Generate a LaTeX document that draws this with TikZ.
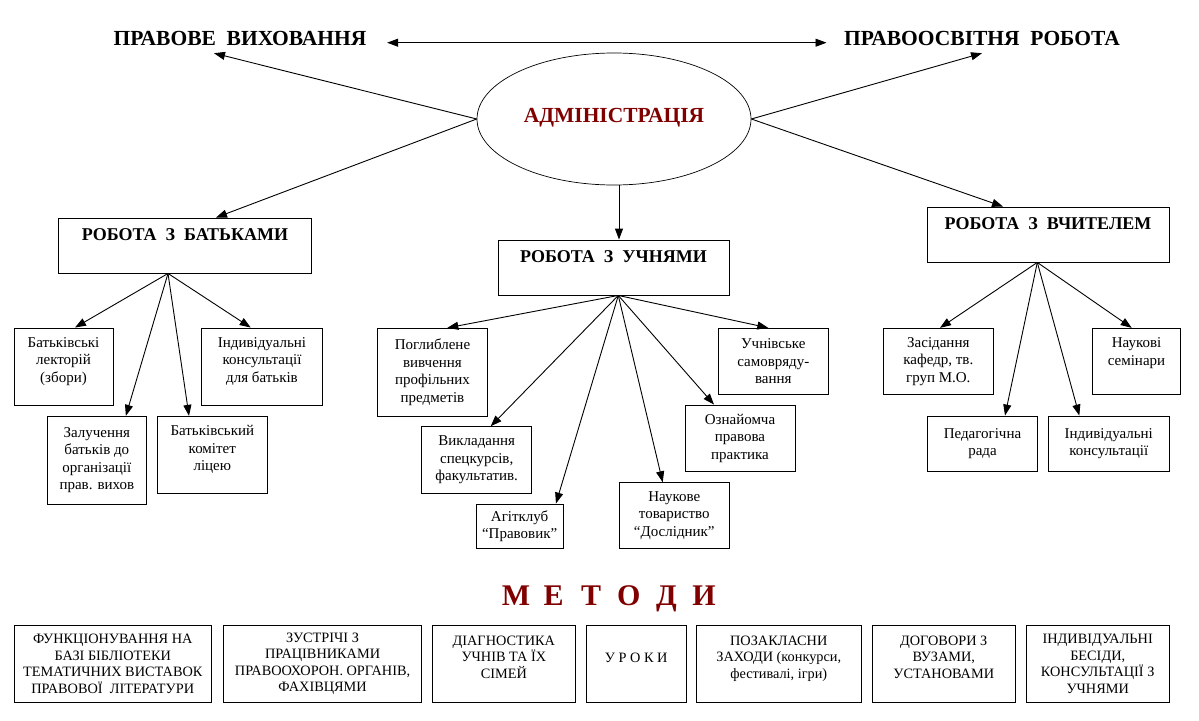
\documentclass[tikz,border=0pt]{standalone}
\usepackage{fontspec}
\setmainfont{Liberation Serif}
\usetikzlibrary{arrows.meta,shapes.geometric}
\definecolor{dred}{RGB}{128,0,0}
\tikzset{
  box/.style={draw, line width=0.9pt, inner sep=0pt, align=center, font=\fontsize{15}{17.5}\selectfont},
  mbox/.style={draw, line width=0.9pt, inner sep=0pt, align=center, minimum height=77.3pt, font=\fontsize{14.3}{16.5}\selectfont},
  headbox/.style={draw, line width=0.9pt, inner sep=0pt, minimum height=55pt, font=\bfseries\fontsize{18}{21}\selectfont, text height=13pt, text depth=24pt},
  titletext/.style={inner sep=0pt, anchor=base, font=\bfseries\fontsize{21.5}{25}\selectfont, text height=15.5pt, text depth=0pt},
  arr/.style={-{Triangle[length=11pt,width=8pt]}, line width=0.9pt},
  darr/.style={{Triangle[length=11pt,width=8pt]}-{Triangle[length=11pt,width=8pt]}, line width=0.9pt},
}
\begin{document}
\begin{tikzpicture}[x=1pt,y=-1pt]
\fill[white] (0,0) rectangle (1199,720);
\useasboundingbox (0,0) rectangle (1199,720);

% top titles
\node[titletext] (pv) at (240,45.7) {ПРАВОВЕ\ \ ВИХОВАННЯ};
\node[titletext] (po) at (982,45.7) {ПРАВООСВІТНЯ\ \ РОБОТА};

% ellipse
\node[draw, ellipse, line width=0.7pt, minimum width=274pt, minimum height=132pt, inner sep=0pt,
      text=dred, font=\bfseries\fontsize{21.5}{25}\selectfont, text height=15.5pt, text depth=8pt] (el) at (614,119) {АДМІНІСТРАЦІЯ};

% heading boxes
\node[headbox, minimum width=253pt] (bat) at (185,245.5) {РОБОТА\ \ З\ \ БАТЬКАМИ};
\node[headbox, minimum width=231pt] (uch) at (613.5,267.5) {РОБОТА\ \ З\ \ УЧНЯМИ};
\node[headbox, minimum width=242pt] (vch) at (1048,234.5) {РОБОТА\ \ З\ \ ВЧИТЕЛЕМ};

% top arrows
\draw[darr] ([xshift=20.5pt,yshift=3pt]pv.base east) -- ([xshift=-17.5pt,yshift=3pt]po.base west);
\draw[arr] (el.west) -- ([xshift=-26pt,yshift=-7.3pt]pv.south);
\draw[arr] (el.east) -- ([yshift=-7.3pt]po.south);
\draw[arr] (el.west) -- ([xshift=31pt]bat.north);
\draw[arr] (el.east) -- ([xshift=-45pt]vch.north);
\draw[arr] ([xshift=5pt]el.south) -- ([xshift=5.5pt]uch.north);

% parents group
\node[box, minimum width=99pt, minimum height=77pt] (b1) at (63.5,366.5) {Батьківські\\лекторій\\(збори)\\[-4.5pt]\mbox{}};
\node[box, minimum width=120.6pt, minimum height=77pt] (b2) at (262,366.5) {Індивідуальні\\консультації\\для батьків\\[-4.5pt]\mbox{}};
\node[box, minimum width=98.3pt, minimum height=87.7pt] (b3) at (96.85,460.15) {Залучення\\батьків до\\організації\\прав. вихов};
\node[box, minimum width=110pt, minimum height=77pt] (b4) at (212.3,454.8) {Батьківський\\комітет\\ліцею\\[-4.5pt]\mbox{}};
\coordinate (batf) at ([xshift=-17pt]bat.south);
\draw[arr] (batf) -- ([xshift=11.5pt]b1.north);
\draw[arr] (batf) -- ([xshift=-11.3pt]b2.north);
\draw[arr] (batf) -- ([xshift=29pt]b3.north);
\draw[arr] (batf) -- ([xshift=-23.3pt]b4.north);

% pupils group
\node[box, minimum width=110.4pt, minimum height=87.7pt] (m1) at (432.5,372.15) {Поглиблене\\вивчення\\профільних\\предметів};
\node[box, minimum width=110pt, minimum height=66.6pt] (m2) at (476.7,460) {Викладання\\спецкурсів,\\факультатив.};
\node[box, minimum width=87.3pt, minimum height=44.3pt] (m3) at (519.65,526.15) {Агітклуб\\“Правовик”};
\node[box, minimum width=110pt, minimum height=65.6pt] (m4) at (674.3,515.5) {Наукове\\товариство\\“Дослідник”};
\node[box, minimum width=110pt, minimum height=66.7pt] (m5) at (740,438.35) {Ознайомча\\правова\\практика};
\node[box, minimum width=110pt, minimum height=65.7pt] (m6) at (773.3,361.15) {Учнівське\\самовряду-\\вання};
\coordinate (uchf) at ([xshift=4.8pt]uch.south);
\draw[arr] (uchf) -- ([xshift=14.8pt]m1.north);
\draw[arr] (uchf) -- ([xshift=14pt]m2.north);
\draw[arr] (uchf) -- ([xshift=36.3pt]m3.north);
\draw[arr] (uchf) -- ([xshift=-11.6pt]m4.north);
\draw[arr] (uchf) -- ([xshift=-26pt]m5.north);
\draw[arr] (uchf) -- ([xshift=-5pt]m6.north);

% teacher group
\node[box, minimum width=110pt, minimum height=65.7pt] (r1) at (938.3,361.15) {Засідання\\кафедр, тв.\\груп М.О.};
\node[box, minimum width=88.4pt, minimum height=65.7pt] (r2) at (1136.5,361.15) {Наукові\\семінари\\[2pt]\mbox{}};
\node[box, minimum width=109.6pt, minimum height=55pt] (r3) at (982.5,443.5) {Педагогічна\\рада};
\node[box, minimum width=121pt, minimum height=55pt] (r4) at (1108.8,443.5) {Індивідуальні\\консультації};
\coordinate (vchf) at ([xshift=-10.7pt]vch.south);
\draw[arr] (vchf) -- ([xshift=1.7pt]r1.north);
\draw[arr] (vchf) -- ([xshift=-4.8pt]r2.north);
\draw[arr] (vchf) -- ([xshift=22.5pt]r3.north);
\draw[arr] (vchf) -- ([xshift=-29.5pt]r4.north);

% methods
\node[inner sep=0pt, anchor=base, text=dred, font=\bfseries\fontsize{30}{36}\selectfont] (met) at (610,605)
  {\makebox[37.6pt]{М}\makebox[37.6pt]{Е}\makebox[37.6pt]{Т}\makebox[37.6pt]{О}\makebox[37.6pt]{Д}\makebox[37.6pt]{И}};
\node[mbox, minimum width=196.5pt] (k1) at (112.75,663.65) {ФУНКЦІОНУВАННЯ НА\\БАЗІ БІБЛІОТЕКИ\\ТЕМАТИЧНИХ ВИСТАВОК\\ПРАВОВОЇ\ \ ЛІТЕРАТУРИ};
\node[mbox, minimum width=198.2pt] (k2) at (322.6,663.65) {ЗУСТРІЧІ З\\ПРАЦІВНИКАМИ\\ПРАВООХОРОН. ОРГАНІВ,\\ФАХІВЦЯМИ};
\node[mbox, minimum width=142.7pt] (k3) at (503.85,663.65) {ДІАГНОСТИКА\\УЧНІВ ТА ЇХ\\СІМЕЙ\\[-3pt]\mbox{}};
\node[mbox, minimum width=99.5pt, text height=10pt, text depth=12.7pt] (k4) at (636.25,663.65) {У Р О К И};
\node[mbox, minimum width=164.5pt] (k5) at (778.75,663.65) {ПОЗАКЛАСНИ\\ЗАХОДИ (конкурси,\\фестивалі, ігри)\\[-3pt]\mbox{}};
\node[mbox, minimum width=143.5pt] (k6) at (943.75,663.65) {ДОГОВОРИ З\\ВУЗАМИ,\\УСТАНОВАМИ\\[-3pt]\mbox{}};
\node[mbox, minimum width=143.4pt] (k7) at (1097.7,663.65) {ІНДИВІДУАЛЬНІ\\БЕСІДИ,\\КОНСУЛЬТАЦІЇ З\\УЧНЯМИ};
\end{tikzpicture}
\end{document}
